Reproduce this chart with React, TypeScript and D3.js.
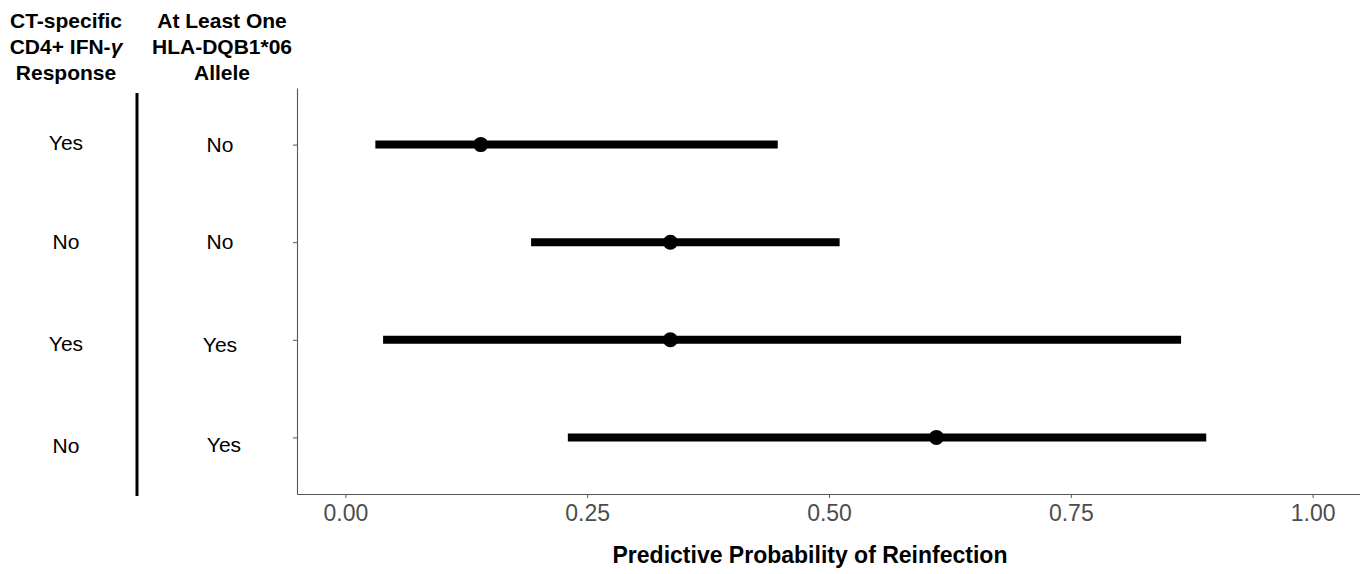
import * as d3 from 'd3';
import React, { useEffect, useRef } from 'react';

// rows top to bottom
const cd4Response = ['Yes', 'No', 'Yes', 'No'];
const hlaAllele = ['No', 'No', 'Yes', 'Yes'];
const estimate = [0.14, 0.336, 0.336, 0.611];
const lower = [0.031, 0.192, 0.039, 0.23];
const upper = [0.447, 0.511, 0.864, 0.89];
const xTicks = [0, 0.25, 0.5, 0.75, 1];

const header1 = ['CT-specific', 'CD4+ IFN-', 'Response'];
const header2 = ['At Least One', 'HLA-DQB1*06', 'Allele'];

function App() {
  const ref = useRef<SVGSVGElement>(null);

  useEffect(() => {
    const svg = d3.select(ref.current);
    svg.selectAll('*').remove();

    const W = 1360, H = 574;
    const panel = { left: 297, right: 1361, top: 88, bottom: 494 };
    const font = '"Liberation Sans", Arial, sans-serif';

    const x = d3.scaleLinear().domain([-0.05, 1.05]).range([panel.left, panel.right]);
    const y = d3.scalePoint<number>()
      .domain(d3.range(estimate.length))
      .range([panel.top, panel.bottom])
      .padding(0.58);

    svg.append('rect').attr('width', W).attr('height', H).attr('fill', 'white');

    // axes
    const xAxis = svg.append('g')
      .attr('transform', `translate(0,${panel.bottom})`)
      .call(d3.axisBottom(x).tickValues(xTicks).tickFormat(d3.format('.2f')).tickSize(4).tickSizeOuter(0).tickPadding(7));
    xAxis.select('.domain').attr('stroke', '#555').attr('stroke-width', 1.1);
    xAxis.selectAll('.tick line').attr('stroke', '#555');
    xAxis.selectAll('.tick text')
      .attr('fill', '#4d4d4d')
      .attr('font-family', font)
      .attr('font-size', 23);

    const yAxis = svg.append('g')
      .attr('transform', `translate(${panel.left},0)`)
      .call(d3.axisLeft(y).tickFormat(() => '').tickSize(4).tickSizeOuter(0));
    yAxis.select('.domain').attr('stroke', '#555').attr('stroke-width', 1.1);
    yAxis.selectAll('.tick line').attr('stroke', '#555');

    // intervals
    svg.append('g').selectAll('line')
      .data(estimate)
      .enter().append('line')
      .attr('x1', (d, i) => x(lower[i]))
      .attr('x2', (d, i) => x(upper[i]))
      .attr('y1', (d, i) => y(i)!)
      .attr('y2', (d, i) => y(i)!)
      .attr('stroke', 'black')
      .attr('stroke-width', 8);

    svg.append('g').selectAll('circle')
      .data(estimate)
      .enter().append('circle')
      .attr('cx', d => x(d))
      .attr('cy', (d, i) => y(i)!)
      .attr('r', 7.5)
      .attr('fill', 'black');

    // x title
    svg.append('text')
      .attr('x', 810)
      .attr('y', 563)
      .attr('text-anchor', 'middle')
      .attr('font-family', font)
      .attr('font-weight', 'bold')
      .attr('font-size', 23)
      .text('Predictive Probability of Reinfection');

    // left table headers
    const col1 = 66, col2 = 222;
    [header1, header2].forEach((lines, c) => {
      const t = svg.append('text')
        .attr('text-anchor', 'middle')
        .attr('font-family', font)
        .attr('font-weight', 'bold')
        .attr('font-size', 21);
      lines.forEach((line, i) => {
        const ts = t.append('tspan')
          .attr('x', c === 0 ? col1 : col2)
          .attr('y', 28 + i * 26)
          .text(line);
        if (c === 0 && i === 1) {
          ts.append('tspan').attr('font-style', 'italic').text('\u03B3');
        }
      });
    });

    svg.append('line')
      .attr('x1', 137).attr('x2', 137)
      .attr('y1', 93).attr('y2', 496)
      .attr('stroke', 'black').attr('stroke-width', 3);

    // the table text sits a little lower than the rows as it goes down
    const nudge1 = [5, 7, 11, 16];
    const nudge2 = [7, 7, 12, 15];
    const rowsG = svg.append('g')
      .attr('font-family', font)
      .attr('font-size', 21)
      .attr('text-anchor', 'middle');
    rowsG.selectAll('text.c1')
      .data(cd4Response)
      .enter().append('text')
      .attr('class', 'c1')
      .attr('x', col1)
      .attr('y', (d, i) => y(i)! + nudge1[i])
      .text(d => d);
    rowsG.selectAll('text.c2')
      .data(hlaAllele)
      .enter().append('text')
      .attr('class', 'c2')
      .attr('x', (d, i) => (i === 3 ? col2 + 2 : col2 - 2))
      .attr('y', (d, i) => y(i)! + nudge2[i])
      .text(d => d);
  }, []);

  return (
    <svg ref={ref} width={1360} height={574}
      style={{ position: 'absolute', left: 0, top: 0, display: 'block' }} />
  );
}

export default App;
